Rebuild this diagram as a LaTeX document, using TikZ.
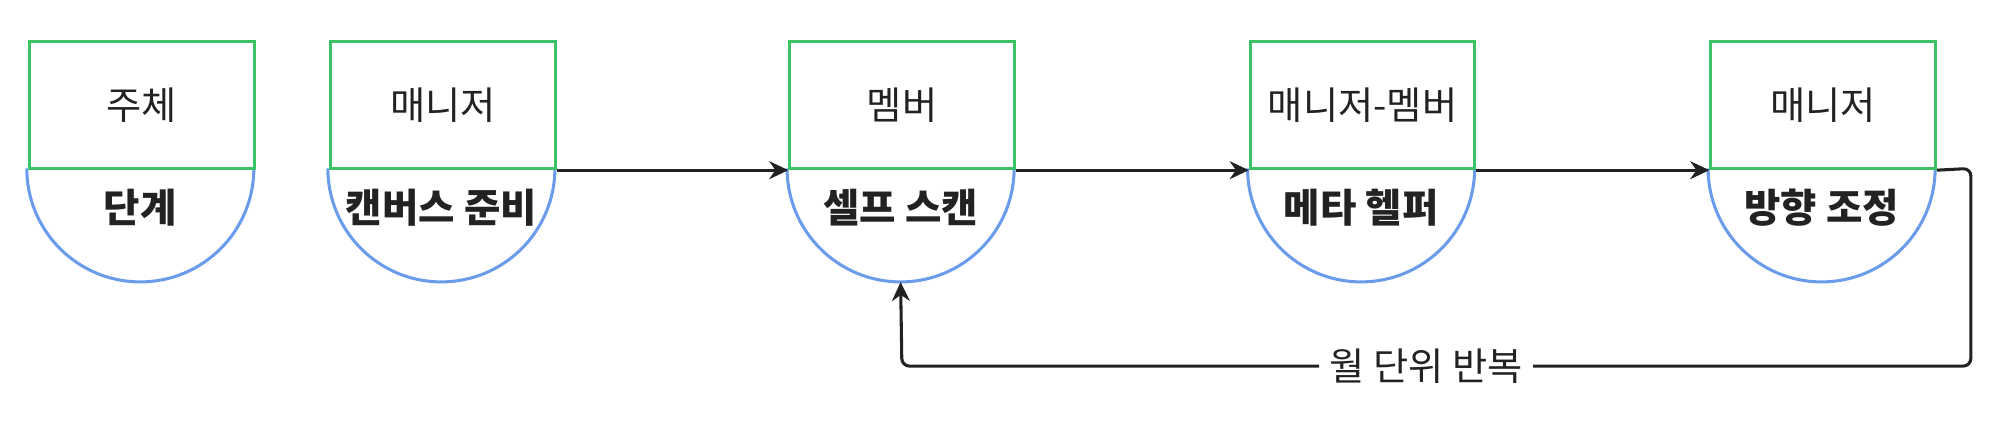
\documentclass[tikz,border=0pt]{standalone}
\usepackage{fontspec}
\setmainfont{Noto Sans CJK KR}
\usetikzlibrary{arrows.meta}
\definecolor{gr}{HTML}{3CC165}
\definecolor{bl}{HTML}{6A9CEB}
\definecolor{ink}{HTML}{222222}
\tikzset{
  topbox/.style={draw=gr, line width=2.4pt, minimum width=176pt, minimum height=100pt, anchor=north west, inner sep=0pt, font=\fontsize{30}{32}\selectfont, text=ink},
  bot/.style={font=\fontsize{31}{33}\selectfont\bfseries, text=ink},
  line/.style={draw=ink, line width=2.4pt, rounded corners=6pt},
  conn/.style={line, -{Stealth[length=15pt,width=14pt]}},
}
\begin{document}
\begin{tikzpicture}[x=1pt,y=-1pt]
\useasboundingbox (0,0) rectangle (1560,343);
\foreach \n/\x/\t/\b in {a/21/주체/단계, b/257/매니저/캔버스 준비, c/617/멤버/셀프 스캔, d/978/매니저-멤버/메타 헬퍼, e/1339/매니저/방향 조정}{
  \draw[bl, line width=2.4pt] (\x,132) arc[start angle=180, end angle=0, radius=89];
  \node[topbox] (\n) at (\x+1,31) {\t};
  \node[bot] (\n b) at (\x+89,163) {\b};
  \coordinate (\n bot) at (\x+89,221);
}
\draw[conn] (b.south east) -- (c.south west);
\draw[conn] (c.south east) -- (d.south west);
\draw[conn] (d.south east) -- (e.south west);
\node[font=\fontsize{30}{32}\selectfont, text=ink, inner xsep=8pt] (lbl) at (1118,287) {월 단위 반복};
\draw[line] (e.south east) -- (1545,132) -- (1545,287) -- (lbl.east);
\draw[conn] (lbl.west) -- (707,287) -- (cbot);
\end{tikzpicture}
\end{document}
